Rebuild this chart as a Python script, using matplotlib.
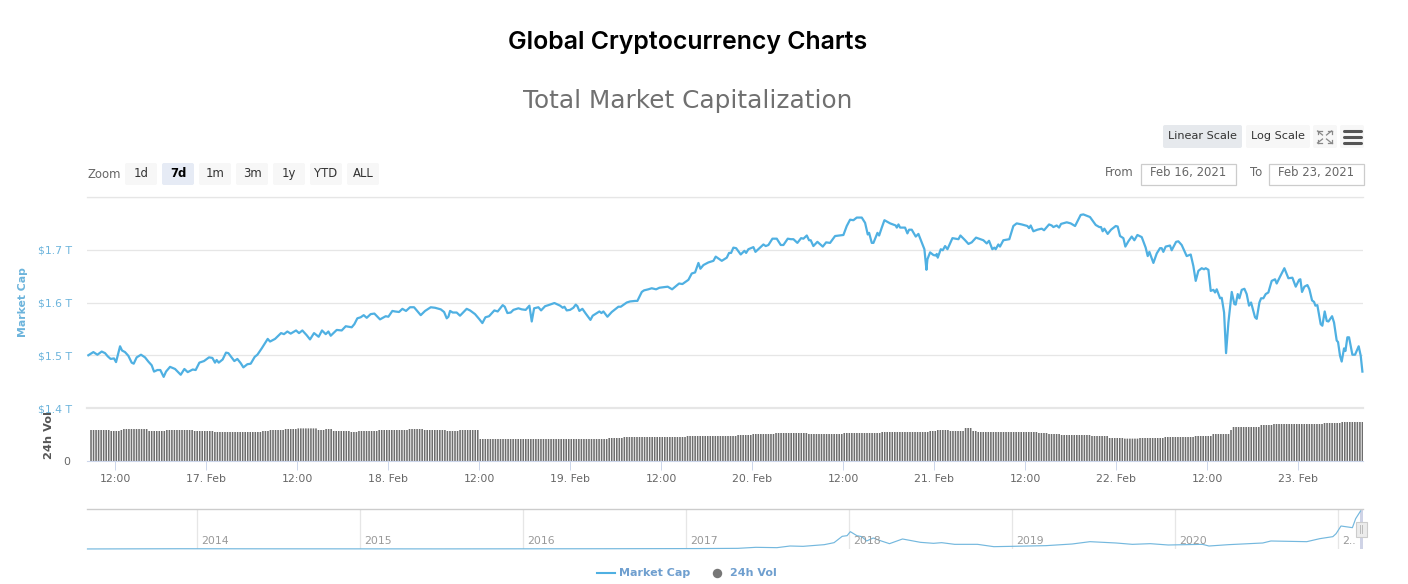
import numpy as np
import matplotlib
matplotlib.use('Agg')
import matplotlib.pyplot as plt
from matplotlib.patches import FancyBboxPatch, Rectangle

W, H = 1408, 584

# market cap: hours since 17 Feb 00:00, value in $T
cap_hours = [
    -15.55, -14.89, -14.36, -13.79, -13.35, -13.00, -12.61, -12.17, -11.90, -11.37, -11.11, -10.72, -10.28, -9.84, -9.57,
    -9.18, -8.61, -8.08, -7.64, -7.20, -6.89, -6.45, -6.06, -5.62, -5.31, -4.78, -4.12, -3.37, -2.89, -2.45,
    -1.79, -1.40, -0.91, -0.30, 0.36, 0.80, 1.15, 1.37, 1.64, 2.16, 2.60, 2.91, 3.70, 4.10, 4.54,
    4.89, 5.42, 5.86, 6.39, 6.74, 7.31, 8.10, 8.41, 9.07, 9.86, 10.25, 10.69, 11.13, 11.84, 12.23,
    12.67, 13.24, 13.68, 14.21, 14.82, 15.26, 15.75, 16.10, 16.41, 17.20, 17.86, 18.39, 19.18, 19.53, 19.92,
    20.36, 20.76, 21.16, 21.68, 22.17, 22.91, 23.66, 24.01, 24.54, 24.89, 25.42, 25.86, 26.34, 26.87, 27.40,
    28.28, 28.85, 29.60, 30.17, 30.92, 31.36, 31.71, 31.93, 32.15, 32.50, 33.02, 33.46, 34.34, 34.78, 35.44,
    35.97, 36.41, 36.81, 37.29, 37.99, 38.43, 39.09, 39.36, 39.71, 40.15, 40.50, 41.16, 41.60, 42.12, 42.61,
    42.92, 43.23, 43.80, 44.15, 44.68, 45.12, 45.91, 46.66, 47.01, 47.23, 47.53, 47.97, 48.41, 48.72, 48.94,
    49.20, 49.60, 50.04, 50.66, 50.96, 51.84, 52.11, 52.37, 52.90, 53.47, 54.35, 54.66, 55.45, 55.89, 56.55,
    56.85, 57.43, 57.73, 58.30, 58.74, 59.32, 59.76, 60.85, 61.43, 62.35, 62.79, 63.58, 64.02, 64.46, 64.90,
    65.16, 65.56, 66.22, 66.88, 67.18, 67.98, 68.64, 68.94, 69.21, 69.51, 69.87, 70.48, 70.97, 71.19, 71.49,
    72.15, 72.42, 73.47, 73.78, 74.13, 74.66, 75.23, 75.76, 76.11, 76.68, 77.08, 77.43, 77.95, 78.44, 78.75,
    79.19, 79.49, 79.71, 80.06, 80.59, 81.30, 81.74, 82.26, 82.92, 84.02, 84.46, 84.90, 85.34, 85.78, 86.44,
    86.88, 87.23, 87.41, 87.76, 87.98, 88.51, 88.73, 89.08, 89.43, 90.18, 90.92, 91.06, 91.28, 91.50, 92.15,
    92.46, 92.68, 93.03, 93.56, 93.91, 94.70, 94.97, 95.10, 95.45, 95.89, 96.20, 96.33, 96.46, 96.86, 97.12,
    97.43, 97.74, 98.40, 99.19, 99.45, 100.07, 100.51, 100.94, 101.51, 102.48, 102.92, 103.22, 103.66, 103.93, 104.10,
    104.45, 104.67, 105.11, 105.90, 106.43, 106.87, 107.53, 108.28, 108.50, 108.72, 109.07, 109.60, 110.17, 110.48, 111.14,
    111.49, 111.71, 112.15, 112.46, 112.72, 113.47, 113.99, 114.57, 115.31, 115.66, 116.54, 117.29, 117.77, 117.99, 118.21,
    118.43, 118.87, 119.31, 119.93, 120.19, 120.50, 120.94, 121.20, 121.60, 122.04, 122.39, 122.79, 123.36, 123.88, 124.15,
    124.37, 124.90, 125.34, 125.77, 125.99, 126.21, 126.52, 127.09, 127.31, 127.89, 128.19, 128.63, 129.29, 129.82, 130.17,
    130.48, 130.83, 131.27, 131.58, 131.80, 132.15, 132.46, 132.81, 133.03, 133.25, 133.69, 133.91, 134.22, 134.48, 134.79,
    135.23, 135.58, 135.75, 136.02, 136.24, 136.55, 136.90, 137.20, 137.51, 137.78, 138.30, 138.52, 138.88, 139.10, 139.40,
    139.71, 140.06, 140.50, 140.94, 141.16, 141.60, 142.17, 142.70, 143.23, 143.67, 144.11, 144.28, 144.50, 144.81, 145.21,
    145.47, 145.82, 146.09, 146.26, 146.52, 146.96, 147.18, 147.49, 147.76, 147.98, 148.46, 148.72, 149.07, 149.25, 149.51,
    149.73, 150.04, 150.22, 150.48, 150.70, 151.14, 151.49, 151.97, 152.24, 152.46,
]
cap_values = [
    1.500, 1.506, 1.501, 1.507, 1.504, 1.498, 1.493, 1.494, 1.487, 1.517, 1.509, 1.506, 1.499, 1.486, 1.484,
    1.496, 1.501, 1.496, 1.488, 1.481, 1.469, 1.472, 1.472, 1.459, 1.469, 1.478, 1.474, 1.463, 1.474, 1.468,
    1.473, 1.472, 1.486, 1.489, 1.496, 1.495, 1.486, 1.491, 1.486, 1.492, 1.505, 1.504, 1.489, 1.493, 1.485,
    1.477, 1.483, 1.484, 1.497, 1.501, 1.513, 1.531, 1.526, 1.531, 1.542, 1.540, 1.545, 1.541, 1.547, 1.542,
    1.547, 1.538, 1.530, 1.542, 1.535, 1.547, 1.540, 1.545, 1.537, 1.548, 1.547, 1.555, 1.553, 1.559, 1.570,
    1.572, 1.576, 1.571, 1.578, 1.579, 1.568, 1.574, 1.573, 1.584, 1.583, 1.582, 1.588, 1.584, 1.591, 1.591,
    1.576, 1.584, 1.591, 1.590, 1.587, 1.582, 1.570, 1.573, 1.584, 1.581, 1.581, 1.575, 1.588, 1.585, 1.578,
    1.569, 1.561, 1.572, 1.574, 1.585, 1.583, 1.595, 1.592, 1.580, 1.581, 1.586, 1.589, 1.587, 1.586, 1.594,
    1.564, 1.589, 1.591, 1.585, 1.593, 1.595, 1.599, 1.594, 1.590, 1.592, 1.585, 1.586, 1.590, 1.596, 1.593,
    1.584, 1.588, 1.579, 1.567, 1.575, 1.583, 1.580, 1.583, 1.573, 1.582, 1.592, 1.592, 1.600, 1.602, 1.603,
    1.603, 1.620, 1.623, 1.625, 1.627, 1.625, 1.628, 1.630, 1.625, 1.636, 1.635, 1.643, 1.655, 1.657, 1.675,
    1.664, 1.671, 1.676, 1.679, 1.687, 1.679, 1.685, 1.694, 1.694, 1.704, 1.703, 1.691, 1.698, 1.694, 1.701,
    1.705, 1.696, 1.710, 1.707, 1.709, 1.721, 1.721, 1.709, 1.709, 1.721, 1.720, 1.720, 1.713, 1.722, 1.721,
    1.727, 1.718, 1.718, 1.707, 1.715, 1.706, 1.714, 1.713, 1.726, 1.728, 1.745, 1.757, 1.756, 1.761, 1.761,
    1.751, 1.729, 1.732, 1.713, 1.713, 1.732, 1.727, 1.742, 1.756, 1.750, 1.746, 1.742, 1.748, 1.742, 1.742,
    1.731, 1.738, 1.738, 1.725, 1.730, 1.701, 1.662, 1.682, 1.695, 1.690, 1.689, 1.692, 1.685, 1.701, 1.699,
    1.707, 1.701, 1.722, 1.720, 1.727, 1.718, 1.711, 1.714, 1.723, 1.718, 1.712, 1.717, 1.701, 1.704, 1.701,
    1.710, 1.706, 1.718, 1.720, 1.745, 1.750, 1.748, 1.745, 1.741, 1.746, 1.735, 1.738, 1.740, 1.737, 1.748,
    1.746, 1.743, 1.746, 1.742, 1.749, 1.752, 1.750, 1.745, 1.766, 1.767, 1.762, 1.747, 1.743, 1.743, 1.735,
    1.740, 1.730, 1.738, 1.745, 1.744, 1.726, 1.722, 1.706, 1.716, 1.725, 1.718, 1.728, 1.724, 1.704, 1.688,
    1.696, 1.675, 1.693, 1.703, 1.703, 1.696, 1.706, 1.708, 1.699, 1.715, 1.716, 1.709, 1.688, 1.691, 1.669,
    1.641, 1.660, 1.665, 1.663, 1.665, 1.662, 1.622, 1.624, 1.619, 1.625, 1.608, 1.609, 1.581, 1.504, 1.562,
    1.620, 1.597, 1.596, 1.616, 1.608, 1.624, 1.626, 1.616, 1.594, 1.600, 1.572, 1.569, 1.600, 1.608, 1.608,
    1.616, 1.619, 1.641, 1.644, 1.636, 1.649, 1.665, 1.646, 1.647, 1.630, 1.643, 1.644, 1.620, 1.630, 1.633,
    1.625, 1.604, 1.601, 1.594, 1.595, 1.559, 1.556, 1.583, 1.565, 1.564, 1.574, 1.562, 1.528, 1.525, 1.499,
    1.488, 1.513, 1.508, 1.534, 1.534, 1.501, 1.501, 1.517, 1.499, 1.469,
]

# 24h volume in $B, given as stretches of 20 minute bars
vol_levels = [
    155, 150, 155, 160, 150, 155, 150, 145, 150, 155, 160, 163, 155, 160, 150, 145, 150, 155,
    160, 155, 150, 155, 110, 115, 120, 125,
    125, 130, 135, 140, 135, 140, 145, 150, 155, 150, 165, 150, 145,
    140, 135, 130, 125, 115, 112, 115, 120, 125, 135, 155, 170, 180, 185, 190, 195,
]
vol_counts = [
    8, 4, 1, 10, 7, 11, 8, 19, 3, 6, 5, 8, 3, 3, 7, 3, 8, 12,
    6, 9, 5, 8, 51, 6, 25, 14,
    6, 6, 9, 13, 14, 15, 19, 3, 5, 6, 3, 2, 24,
    4, 5, 12, 7, 6, 6, 10, 12, 7, 7, 1, 11, 5, 20, 7, 9,
]
vol_start_hour = -15.2

# navigator: full history
nav_years = [
    2013.33, 2013.90, 2014.50, 2015.50, 2016.50, 2017.08, 2017.32, 2017.43, 2017.56, 2017.64, 2017.72, 2017.85, 2017.91,
    2017.96, 2017.99, 2018.01, 2018.05, 2018.08, 2018.11, 2018.15, 2018.20, 2018.25, 2018.33, 2018.44, 2018.52, 2018.57,
    2018.65, 2018.79, 2018.89, 2019.00, 2019.21, 2019.37, 2019.48, 2019.64, 2019.74, 2019.85, 2019.96, 2020.17, 2020.21,
    2020.33, 2020.54, 2020.59, 2020.81, 2020.89, 2020.97, 2020.99, 2021.02, 2021.09, 2021.11, 2021.14,
]
nav_values = [
    0.002, 0.012, 0.008, 0.005, 0.012, 0.020, 0.030, 0.076, 0.061, 0.136, 0.121, 0.197, 0.288,
    0.576, 0.606, 0.788, 0.606, 0.561, 0.364, 0.500, 0.364, 0.242, 0.455, 0.303, 0.258, 0.288,
    0.212, 0.212, 0.106, 0.121, 0.152, 0.227, 0.333, 0.273, 0.212, 0.242, 0.182, 0.212, 0.136,
    0.197, 0.273, 0.364, 0.333, 0.470, 0.561, 0.697, 1.045, 0.970, 1.379, 1.727,
]

cap_ticks = [1.4, 1.5, 1.6, 1.7, 1.8]
cap_tick_labels = ['$1.4 T', '$1.5 T', '$1.6 T', '$1.7 T', '']
x_ticks = [-12, 0, 12, 24, 36, 48, 60, 72, 84, 96, 108, 120, 132, 144]
x_tick_labels = ['12:00', '17. Feb', '12:00', '18. Feb', '12:00', '19. Feb', '12:00', '20. Feb',
                 '12:00', '21. Feb', '12:00', '22. Feb', '12:00', '23. Feb']
nav_ticks = [2014, 2015, 2016, 2017, 2018, 2019, 2020, 2021]
nav_tick_labels = ['2014', '2015', '2016', '2017', '2018', '2019', '2020', '2..']
zoom_buttons = ['1d', '7d', '1m', '3m', '1y', 'YTD', 'ALL']

BLUE = '#4fb0e2'
LABEL_BLUE = '#6cb4dc'
GRID = '#e6e6e6'
AXIS = '#ccd6eb'
GREY_TEXT = '#666666'
X_LIM = (-15.73, 152.54)

plt.rcParams['font.family'] = ['DejaVu Sans']


def px_axes(fig, left, top, right, bottom):
    ax = fig.add_axes([left / W, 1 - bottom / H, (right - left) / W, (bottom - top) / H])
    ax.patch.set_alpha(0)
    for s in ax.spines.values():
        s.set_visible(False)
    return ax


fig = plt.figure(figsize=(W / 100, H / 100), dpi=100)

# page furniture, in pixel coordinates
page = px_axes(fig, 0, 0, W, H)
page.set_xlim(0, W)
page.set_ylim(H, 0)
page.axis('off')


def button(x0, x1, y0, y1, label, fill, color='#333333', weight='normal', size=8.4):
    page.add_patch(FancyBboxPatch((x0 + 2, y0 + 2), x1 - x0 - 4, y1 - y0 - 4,
                                  boxstyle='round,pad=2,rounding_size=2', fc=fill, ec='none'))
    if label:
        page.text((x0 + x1) / 2, (y0 + y1) / 2 - 0.5, label, ha='center', va='center',
                  color=color, fontweight=weight, fontsize=size)


page.text(688, 42.5, 'Global Cryptocurrency Charts', ha='center', va='center',
          family='Inter', fontweight='semibold', fontsize=17.9, color='black')
page.text(688, 101, 'Total Market Capitalization', ha='center', va='center',
          fontsize=17.8, color='#707070')

page.text(87, 174, 'Zoom', ha='left', va='center', fontsize=8.4, color=GREY_TEXT)
for i, lab in enumerate(zoom_buttons):
    x0 = 125 + i * 37
    if lab == '7d':
        button(x0, x0 + 32, 163, 185, lab, '#e6ebf5', color='black', weight='bold')
    else:
        button(x0, x0 + 32, 163, 185, lab, '#f7f7f7')

button(1163, 1242, 125, 148, 'Linear Scale', '#e6e9ed', size=8.1)
button(1246, 1310, 125, 148, 'Log Scale', '#f7f7f7', size=8.1)
button(1313, 1337, 125, 148, '', '#f7f7f7')
button(1340, 1364, 125, 148, '', '#f7f7f7')
for yy in [131, 137, 143]:
    page.plot([1343.5, 1360.5], [yy, yy], color='#555555', lw=2.2, solid_capstyle='round')
for sx, sy in [(1, 1), (-1, 1), (1, -1), (-1, -1)]:
    cx, cy = 1324.5 + sx * 7, 137 + sy * 6
    page.plot([cx, cx - sx * 5], [cy, cy - sy * 4], color='#888888', lw=0.9)
    page.plot([cx, cx - sx * 4], [cy, cy], color='#888888', lw=0.9)
    page.plot([cx, cx], [cy, cy - sy * 3], color='#888888', lw=0.9)

page.text(1134, 173, 'From', ha='right', va='center', fontsize=8.4, color=GREY_TEXT)
page.text(1262, 173, 'To', ha='right', va='center', fontsize=8.4, color=GREY_TEXT)
for x0, date in [(1141, 'Feb 16, 2021'), (1269, 'Feb 23, 2021')]:
    page.add_patch(Rectangle((x0, 163.5), 95, 21, fc='white', ec='#cccccc', lw=0.9))
    page.text(x0 + 47.5, 172.5, date, ha='center', va='center', fontsize=8.4, color=GREY_TEXT)

# main price panel
ax = px_axes(fig, 87, 197, 1363, 408)
ax.set_xlim(*X_LIM)
ax.set_ylim(1.4, 1.8)
ax.set_xticks([])
ax.set_yticks(cap_ticks)
ax.set_yticklabels(cap_tick_labels, color=LABEL_BLUE, fontsize=7.8)
ax.tick_params(axis='y', length=0, pad=10.5)
ax.grid(axis='y', color=GRID, lw=0.9, zorder=0)
ax.set_axisbelow(True)
ax.plot(cap_hours, cap_values, color=BLUE, lw=1.6, solid_joinstyle='round', clip_on=False)
ax.axhline(1.4, color=GRID, lw=1.6, clip_on=False)
ax.axhline(1.8, color=GRID, lw=0.9, clip_on=False)

# volume panel
vol = np.repeat(vol_levels, vol_counts)
vol_hours = vol_start_hour + np.arange(len(vol)) / 3
vx = px_axes(fig, 87, 408, 1363, 461)
vx.set_xlim(*X_LIM)
vx.set_ylim(0, 265)
bars = vx.bar(vol_hours, vol, width=0.21, color='#6e6e6e', lw=0)
for b in bars:
    b.set_snap(False)
vx.set_yticks([0])
vx.set_yticklabels(['0'], color=GREY_TEXT, fontsize=7.8)
vx.tick_params(axis='y', length=0, pad=12)
vx.set_xticks(x_ticks)
vx.set_xticklabels(x_tick_labels, color=GREY_TEXT, fontsize=7.8)
vx.tick_params(axis='x', length=6.5, width=0.7, color=AXIS, pad=2.5)
vx.spines['bottom'].set_visible(True)
vx.spines['bottom'].set_color(AXIS)
vx.spines['bottom'].set_linewidth(0.8)

page.text(23, 302, 'Market Cap', rotation=90, ha='center', va='center', fontsize=7.8,
          fontweight='bold', color=LABEL_BLUE)
page.text(49, 435, '24h Vol', rotation=90, ha='center', va='center', fontsize=8.2,
          fontweight='bold', color='#555555', zorder=5)

# navigator
nx = px_axes(fig, 87, 509, 1363, 549)
nx.set_xlim(2013.327, 2021.155)
nx.set_ylim(0, 1.818)
nx.set_yticks([])
nx.set_xticks(nav_ticks)
nx.set_xticklabels([])
nx.tick_params(axis='x', length=0)
nx.grid(axis='x', color=GRID, lw=0.9)
nx.set_axisbelow(True)
nx.plot(nav_years, nav_values, color='#74b8de', lw=0.85, clip_on=False)
for yr, lab in zip(nav_ticks, nav_tick_labels):
    nx.annotate(lab, (yr, 0), xytext=(3, 2), textcoords='offset points', ha='left', va='bottom',
                fontsize=7.8, color='#999999')
nx.spines['top'].set_visible(True)
nx.spines['top'].set_color('#cccccc')
nx.spines['top'].set_linewidth(1.0)

# navigator selection handle
page.add_patch(Rectangle((1360, 509), 3, 40, fc='#cfd3e6', ec='none', zorder=4))
page.add_patch(Rectangle((1355.5, 521.5), 11, 15, fc='#ececec', ec='#cccccc', lw=0.8, zorder=5))
for hx in [1360, 1362]:
    page.plot([hx, hx], [525, 533], color='#bbbbbb', lw=0.7, zorder=6)

# legend
page.plot([597, 615], [573, 573], color=BLUE, lw=1.5)
page.text(619, 573, 'Market Cap', ha='left', va='center', fontsize=8, fontweight='bold', color='#6f9fcf')
page.plot([717], [572.5], 'o', color='#777777', ms=6.8, mew=0)
page.text(730, 573, '24h Vol', ha='left', va='center', fontsize=8, fontweight='bold', color='#6f9fcf')

fig.savefig('out.png', dpi=100)
